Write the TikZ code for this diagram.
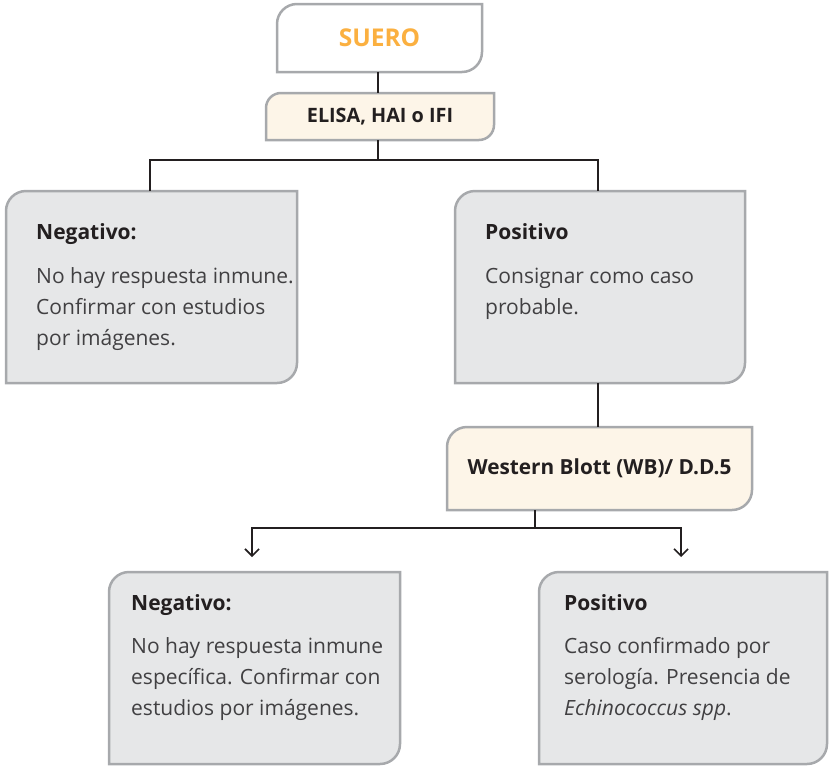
\documentclass[tikz,border=0pt]{standalone}
\usepackage{fontspec}
\setmainfont{Open Sans}
\usetikzlibrary{backgrounds,arrows.meta}
\definecolor{boxgray}{HTML}{E6E7E8}
\definecolor{boxline}{HTML}{A7A9AC}
\definecolor{cream}{HTML}{FDF5E8}
\definecolor{orng}{HTML}{FBB040}
\definecolor{ink}{HTML}{231F20}
\definecolor{bodyink}{HTML}{414042}
\newcommand\cornerbox[3]{%
  \begin{pgfonlayer}{background}
  \path[draw=boxline, line width=2.5pt, fill=#2]
    (#1.south west) -- ([yshift=-#3]#1.north west)
    arc[start angle=180,end angle=90,radius=#3] -- (#1.north east)
    -- ([yshift=#3]#1.south east)
    arc[start angle=0,end angle=-90,radius=#3] -- cycle;
  \end{pgfonlayer}}
\begin{document}
\begin{tikzpicture}[x=1pt,y=-1pt,
  boxn/.style={rectangle, inner sep=0pt, outer sep=0pt},
  titletext/.style={inner sep=0pt, anchor=base west, text=ink, font=\fontsize{21}{25}\selectfont\bfseries},
  bodytext/.style={inner sep=0pt, anchor=base west, align=left, text=bodyink, font=\fontsize{21}{31}\selectfont},
  conn/.style={draw=ink, line width=1.6pt},
  arr/.style={conn, -{Straight Barb[length=7pt,width=14pt,line width=1.6pt]}}]
\useasboundingbox (0,0) rectangle (829,766);
% boxes
\node[boxn, minimum width=205pt, minimum height=68pt, text=orng, font=\fontsize{24.5}{28}\selectfont\bfseries] (suero) at (379.5,38) {SUERO};
\node[boxn, minimum width=228pt, minimum height=47pt, text=ink, font=\fontsize{19.8}{24}\selectfont\bfseries] (elisa) at (380,116.5) {ELISA, HAI o IFI};
\node[boxn, minimum width=291pt, minimum height=192pt] (neg1) at (151.5,287) {};
\node[boxn, minimum width=290pt, minimum height=192pt] (pos1) at (600,287) {};
\node[boxn, minimum width=305pt, minimum height=83pt, text=ink, font=\fontsize{20.8}{25}\selectfont\bfseries] (wb) at (599.5,468.5) {Western Blott (WB)/ D.D.5};
\node[boxn, minimum width=291pt, minimum height=192pt] (neg2) at (254.5,668) {};
\node[boxn, minimum width=288pt, minimum height=192pt] (pos2) at (683,668) {};
\cornerbox{suero}{white}{20pt}
\cornerbox{elisa}{cream}{15pt}
\cornerbox{neg1}{boxgray}{20pt}
\cornerbox{pos1}{boxgray}{20pt}
\cornerbox{wb}{cream}{20pt}
\cornerbox{neg2}{boxgray}{20pt}
\cornerbox{pos2}{boxgray}{20pt}
% texts (base anchor = baseline of the last line)
\node[titletext] (neg1t) at ([xshift=30pt,yshift=-48pt]neg1.north west) {Negativo:};
\node[bodytext] (neg1b) at ([xshift=30pt,yshift=-154pt]neg1.north west) {No hay respuesta inmune.\\Confirmar con estudios\\por imágenes.};
\node[titletext] (pos1t) at ([xshift=30pt,yshift=-48pt]pos1.north west) {Positivo};
\node[bodytext] (pos1b) at ([xshift=30pt,yshift=-123pt]pos1.north west) {Consignar como caso\\probable.};
\node[titletext] (neg2t) at ([xshift=22pt,yshift=-38pt]neg2.north west) {Negativo:};
\node[bodytext] (neg2b) at ([xshift=22pt,yshift=-143pt]neg2.north west) {No hay respuesta inmune\\específica. Confirmar con\\estudios por imágenes.};
\node[titletext] (pos2t) at ([xshift=25pt,yshift=-38pt]pos2.north west) {Positivo};
\node[bodytext] (pos2b) at ([xshift=25pt,yshift=-143pt]pos2.north west) {Caso confirmado por\\serología. Presencia de\\\textit{Echinococcus spp}.};
% connectors
\draw[conn] ([xshift=-1.5pt]suero.south) -- ([xshift=-1.5pt]suero.south |- elisa.north);
\coordinate (j1) at ([xshift=-2pt,yshift=-20pt]elisa.south);
\draw[conn] ([xshift=-2pt]elisa.south) -- (j1);
\draw[conn] ([xshift=-1.5pt]neg1.north) |- (j1) -| ([xshift=-2pt]pos1.north);
\draw[conn] ([xshift=-2pt]pos1.south) -- ([xshift=-2pt]pos1.south |- wb.north);
\coordinate (wbout) at ([xshift=-64.5pt]wb.south);
\coordinate (j2) at ([yshift=-18pt]wbout);
\coordinate (a1) at ([xshift=-2.5pt,yshift=15pt]neg2.north);
\coordinate (a2) at ([xshift=-2pt,yshift=15pt]pos2.north);
\draw[conn] (wbout) -- (j2);
\draw[arr] (j2) -| (a1);
\draw[arr] (j2) -| (a2);
\end{tikzpicture}
\end{document}
